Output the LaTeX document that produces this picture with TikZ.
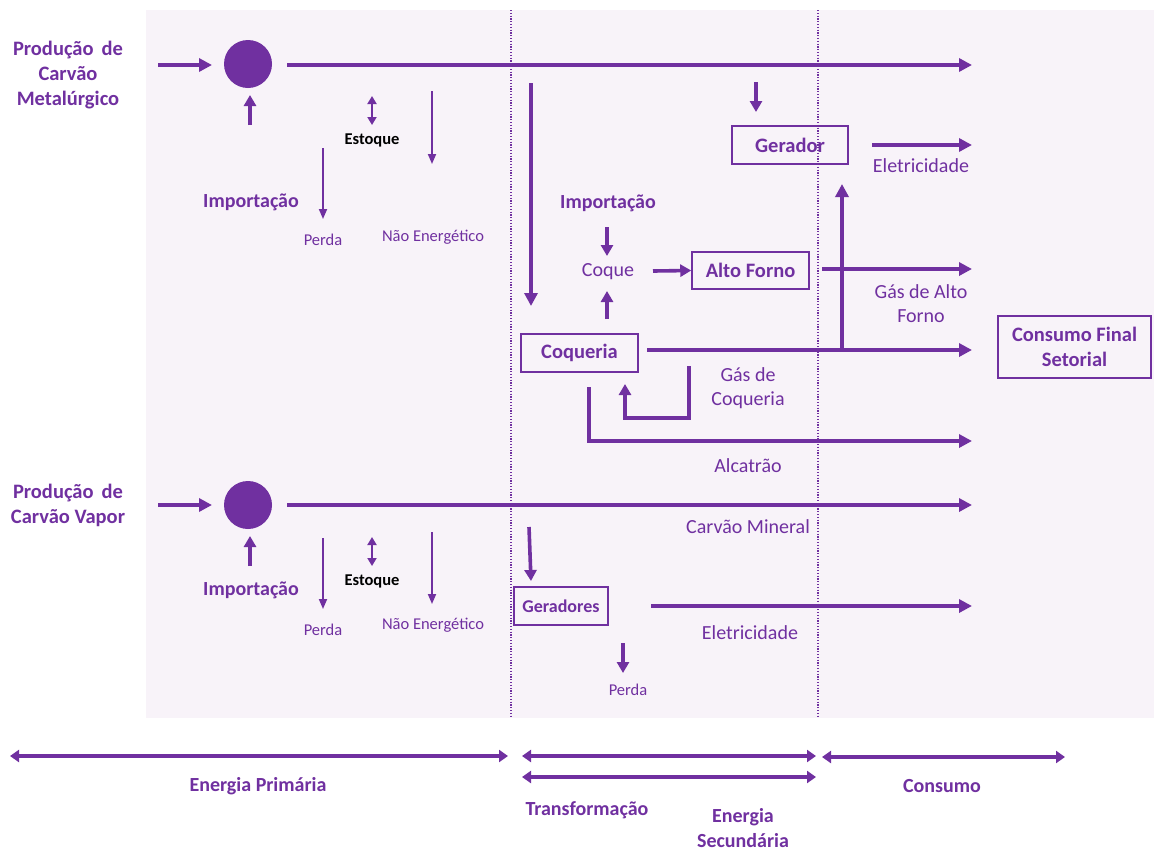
\documentclass[tikz,border=0pt]{standalone}
\usepackage{fontspec}
\setmainfont{Carlito}
\usetikzlibrary{arrows.meta}
\definecolor{coal}{HTML}{7030A0}
\definecolor{panel}{HTML}{F8F3F9}

\begin{document}
\begin{tikzpicture}[x=1pt,y=-1pt,
  flow/.style={draw=coal, line width=3.6pt, -{Triangle[length=13pt,width=13pt]}},
  stub/.style={draw=coal, line width=3.6pt, -{Triangle[length=11pt,width=12pt]}},
  slim/.style={draw=coal, line width=1.8pt, -{Triangle[length=10pt,width=8pt]}},
  stock/.style={draw=coal, line width=1.8pt, {Triangle[length=8pt,width=9pt]}-{Triangle[length=8pt,width=9pt]}},
  span/.style={draw=coal, line width=3.4pt, {Triangle[length=9pt,width=12pt]}-{Triangle[length=9pt,width=12pt]}},
  divider/.style={draw=coal, line width=1.1pt, dash pattern=on 1.2pt off 1.6pt},
  hub/.style={circle, fill=coal, minimum size=48pt, inner sep=0pt},
  stage/.style={draw=coal, line width=1.5pt, text=coal, inner sep=0pt,
    font=\bfseries\fontsize{20.5}{25}\selectfont, align=center},
  head/.style={text=coal, font=\bfseries\fontsize{20.5}{25}\selectfont, align=center},
  bold/.style={text=coal, font=\bfseries\fontsize{20}{24}\selectfont, align=center},
  plain/.style={text=coal, font=\fontsize{20}{24}\selectfont, align=center},
  small/.style={text=coal, font=\fontsize{16.5}{20}\selectfont, align=center},
  stocklbl/.style={text=black, font=\bfseries\fontsize{16.5}{20}\selectfont},
  axislbl/.style={text=coal, inner sep=1pt, font=\bfseries\fontsize{20}{25}\selectfont, align=center}
]
\useasboundingbox (0,0) rectangle (1154,852);
\fill[white] (0,0) rectangle (1154,852);
\fill[panel] (146,10) rectangle (1154,718);

% stage dividers
\coordinate (d1t) at (511,10);  \coordinate (d1b) at (511,718);
\coordinate (d2t) at (818,10);  \coordinate (d2b) at (818,718);
\draw[divider] (d1t) -- (d1b);
\draw[divider] (d2t) -- (d2b);

% ---------- metallurgical coal ----------
\node[head] (prodMet) at (68,75) {Produção \,de\\Carvão\\Metalúrgico};
\node[hub] (hubMet) at (248,64) {};
\coordinate (inMet) at (158,65);
\coordinate (inMetEnd) at (212,65);
\draw[flow] (inMet) -- (inMetEnd);
\coordinate (mainMetA) at (287,65);
\coordinate (mainMetB) at (972,65);
\draw[flow] (mainMetA) -- (mainMetB);

\node[bold] (impMet) at (251,202) {Importação};
\coordinate (impMetA) at (250,125);
\coordinate (impMetB) at (250,95);
\draw[stub] (impMetA) -- (impMetB);

\node[stocklbl] (stkMet) at (372,140) {Estoque};
\coordinate (stkMetA) at (372,96);
\coordinate (stkMetB) at (372,125);
\draw[stock] (stkMetA) -- (stkMetB);

\node[small] (lossMet) at (323,240) {Perda};
\coordinate (lossMetA) at (323,148);
\draw[slim] (lossMetA) -- (323,219);

\node[small] (neMet) at (433,237) {Não Energético};
\coordinate (neMetA) at (432,91);
\draw[slim] (neMetA) -- (432,164);

% ---------- transformation of metallurgical coal ----------
\node[stage, minimum width=116pt, minimum height=38pt] (gerador) at (790,145) {Gerador};
\node[stage, minimum width=117pt, minimum height=37pt] (altoForno) at (750.5,270.5) {Alto Forno};
\node[stage, minimum width=117pt, minimum height=38pt] (coqueria) at (579.5,353) {Coqueria};
\node[stage, minimum width=153pt, minimum height=62pt] (consumo) at (1074.5,347) {Consumo Final\\Setorial};

\coordinate (toCoqA) at (531,83);
\coordinate (toCoqB) at (531,306);
\draw[flow] (toCoqA) -- (toCoqB);

\coordinate (toGerA) at (756,82);
\coordinate (toGerB) at (756,112);
\draw[stub] (toGerA) -- (toGerB);

\coordinate (eleA) at (872,145);
\coordinate (eleB) at (972,145);
\draw[flow] (eleA) -- (eleB);
\node[plain] (ele1) at (921,166) {Eletricidade};

\node[bold] (impCoq) at (608,203) {Importação};
\node[plain] (coque) at (608,272) {Coque};
\coordinate (impCoqA) at (607,227);
\coordinate (impCoqB) at (607,256);
\draw[stub] (impCoqA) -- (impCoqB);
\coordinate (coqUpA) at (607,319);
\coordinate (coqUpB) at (607,291);
\draw[stub] (coqUpA) -- (coqUpB);
\coordinate (coqueOut) at (653,271);
\draw[stub] (coqueOut) -- (altoForno.west);

\coordinate (gafA) at (822,269);
\coordinate (gafB) at (972,269);
\draw[flow] (gafA) -- (gafB);
\node[plain] (gaf) at (921,304) {Gás de Alto\\Forno};

\coordinate (gcA) at (647,350);
\coordinate (gcB) at (972,350);
\draw[flow] (gcA) -- (gcB);
\coordinate (gcBranch) at (842,350);
\coordinate (gcUp) at (842,184);
\draw[flow] (gcBranch) -- (gcUp);
\node[plain] (gc) at (748,388) {Gás de\\Coqueria};

\coordinate (backA) at (689,366);
\coordinate (backB) at (689,418);
\coordinate (backC) at (625,418);
\coordinate (backD) at (625,384);
\draw[stub] (backA) -- (backB) -- (backC) -- (backD);

\coordinate (tarA) at (589,387);
\coordinate (tarB) at (589,441);
\coordinate (tarC) at (972,441);
\draw[flow] (tarA) -- (tarB) -- (tarC);
\node[plain] (tar) at (748,466) {Alcatrão};

% ---------- steam coal ----------
\node[head] (prodVap) at (68,505) {Produção \,de\\Carvão Vapor};
\node[hub] (hubVap) at (248,505) {};
\coordinate (inVap) at (158,505);
\coordinate (inVapEnd) at (212,505);
\draw[flow] (inVap) -- (inVapEnd);
\coordinate (mainVapA) at (287,505);
\coordinate (mainVapB) at (972,505);
\draw[flow] (mainVapA) -- (mainVapB);
\node[plain] (mineral) at (748,527) {Carvão Mineral};

\node[bold] (impVap) at (251,590) {Importação};
\coordinate (impVapA) at (250,566);
\coordinate (impVapB) at (250,536);
\draw[stub] (impVapA) -- (impVapB);

\node[small] (lossVap) at (323,630) {Perda};
\coordinate (lossVapA) at (323,538);
\draw[slim] (lossVapA) -- (323,609);

\node[stocklbl] (stkVap) at (372,581) {Estoque};
\coordinate (stkVapA) at (372,537);
\coordinate (stkVapB) at (372,566);
\draw[stock] (stkVapA) -- (stkVapB);

\node[small] (neVap) at (433,625) {Não Energético};
\coordinate (neVapA) at (432,532);
\draw[slim] (neVapA) -- (432,604);

\node[stage, minimum width=94pt, minimum height=38pt,
  font=\bfseries\fontsize{18}{22}\selectfont] (geradores) at (561,606) {Geradores};
\coordinate (toGenA) at (529,527);
\coordinate (toGenB) at (531,581);
\draw[stub] (toGenA) -- (toGenB);

\coordinate (ele2A) at (651,606);
\coordinate (ele2B) at (972,606);
\draw[flow] (ele2A) -- (ele2B);
\node[plain] (ele2) at (750,633) {Eletricidade};

\coordinate (lossGenA) at (623,643);
\coordinate (lossGenB) at (623,673);
\draw[stub] (lossGenA) -- (lossGenB);
\node[small] (lossGen) at (628,690) {Perda};

% ---------- stage axis ----------
\coordinate (primA) at (10,756);   \coordinate (primB) at (508,756);
\coordinate (trA) at (522,756);    \coordinate (trB) at (816,756);
\coordinate (secA) at (522,777);   \coordinate (secB) at (816,777);
\coordinate (conA) at (822,757);   \coordinate (conB) at (1065,757);
\draw[span] (primA) -- (primB);
\draw[span] (trA) -- (trB);
\draw[span] (secA) -- (secB);
\draw[span] (conA) -- (conB);
\node[axislbl] (lblPrim) at (258,786) {Energia Primária};
\node[axislbl] (lblTr) at (587,810) {Transformação};
\node[axislbl] (lblSec) at (743,828) {Energia\\Secundária};
\node[axislbl] (lblCon) at (942,786) {Consumo};
\end{tikzpicture}
\end{document}
